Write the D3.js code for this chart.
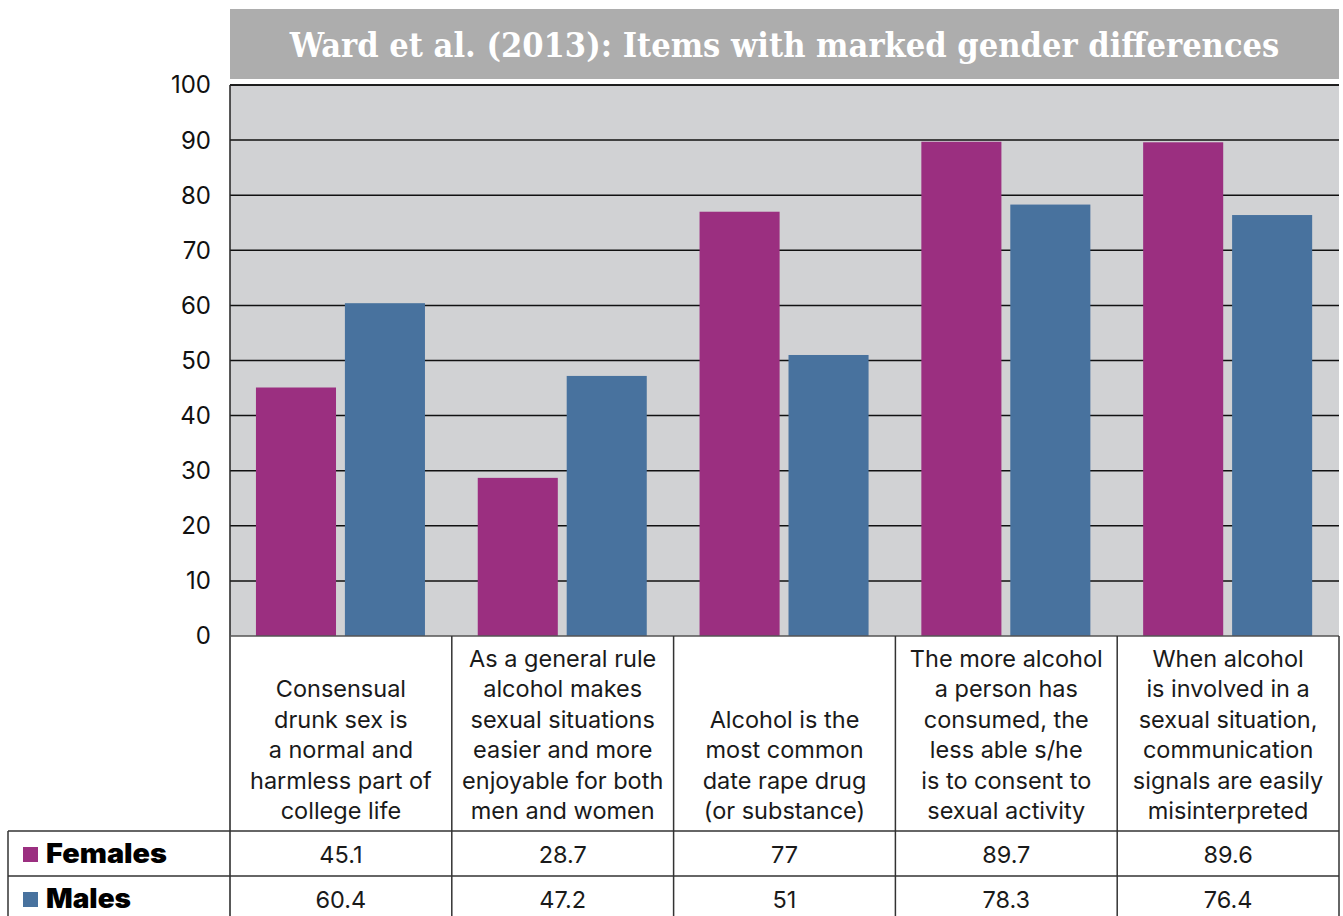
<!DOCTYPE html>
<html>
<head>
<meta charset="utf-8">
<script src="https://cdn.jsdelivr.net/npm/d3@7/dist/d3.min.js"></script>
<style>
  html, body { margin: 0; padding: 0; background: #fff; }
  svg { display: block; }
</style>
</head>
<body>
<svg id="chart" width="1343" height="916"></svg>
<script>
// Survey items (one per column), wrapped the way they appear in the table
const categories = [
  ["Consensual", "drunk sex is", "a normal and", "harmless part of", "college life"],
  ["As a general rule", "alcohol makes", "sexual situations", "easier and more", "enjoyable for both", "men and women"],
  ["Alcohol is the", "most common", "date rape drug", "(or substance)"],
  ["The more alcohol", "a person has", "consumed, the", "less able s/he", "is to consent to", "sexual activity"],
  ["When alcohol", "is involved in a", "sexual situation,", "communication", "signals are easily", "misinterpreted"]
];
const seriesNames = ["Females", "Males"];
const females = [45.1, 28.7, 77, 89.7, 89.6];
const males = [60.4, 47.2, 51, 78.3, 76.4];
const yTicks = [0, 10, 20, 30, 40, 50, 60, 70, 80, 90, 100];
const title = "Ward et al. (2013): Items with marked gender differences";

const colors = { Females: "#9b2f80", Males: "#48729e" };
const seriesValues = { Females: females, Males: males };
const legendWidths = { Females: 121, Males: 85 };

const svg = d3.select("#chart");

// Layout
const plotLeft = 230, plotRight = 1339, plotTop = 85, plotBottom = 636;
const tableLeft = 8, rowFem = 831, rowMale = 876, tableBottom = 916;

const y = d3.scaleLinear().domain([0, 100]).range([plotBottom, plotTop]);
const x0 = d3.scaleBand().domain(d3.range(categories.length)).range([plotLeft, plotRight]).padding(0);
const bw = x0.bandwidth();
const x1 = d3.scaleBand().domain(seriesNames)
  .range([bw * 0.117, bw * 0.879]).paddingInner(0.1).paddingOuter(0);

// Title banner
svg.append("rect")
  .attr("x", plotLeft).attr("y", 9)
  .attr("width", plotRight - plotLeft).attr("height", 70)
  .attr("fill", "#adadad");
const titleText = svg.append("text")
  .attr("x", (plotLeft + plotRight) / 2).attr("y", 57)
  .attr("text-anchor", "middle")
  .attr("font-family", "'DejaVu Serif Condensed', 'DejaVu Serif', serif")
  .attr("font-weight", "bold")
  .attr("font-size", 40)
  .attr("fill", "#fff")
  .text(title);
// shrink the title if it runs wider than the banner text area
const titleMax = 990;
const titleW = titleText.node().getComputedTextLength();
if (titleW > titleMax) titleText.attr("font-size", 40 * titleMax / titleW);

// Plot background
svg.append("rect")
  .attr("x", plotLeft).attr("y", plotTop)
  .attr("width", plotRight - plotLeft).attr("height", plotBottom - plotTop)
  .attr("fill", "#d1d2d4");

// Gridlines
svg.append("g")
  .selectAll("line")
  .data(yTicks.filter(d => d > 0))
  .join("line")
  .attr("x1", plotLeft).attr("x2", plotRight)
  .attr("y1", d => y(d)).attr("y2", d => y(d))
  .attr("stroke", "#111").attr("stroke-width", 1.5);

// Bars
const groups = svg.append("g")
  .selectAll("g")
  .data(categories.map((c, i) => i))
  .join("g")
  .attr("transform", i => `translate(${x0(i)},0)`);

groups.selectAll("rect")
  .data(i => seriesNames.map(s => ({ s, v: seriesValues[s][i] })))
  .join("rect")
  .attr("x", d => x1(d.s))
  .attr("width", x1.bandwidth())
  .attr("y", d => y(d.v))
  .attr("height", d => y(0) - y(d.v))
  .attr("fill", d => colors[d.s]);

// Y axis labels
const yAxis = d3.axisLeft(y).tickValues(yTicks).tickSize(0).tickPadding(19);
const yg = svg.append("g").attr("transform", `translate(${plotLeft},0)`).call(yAxis);
yg.select(".domain").remove();
yg.selectAll("text")
  .attr("font-family", "Inter, 'Noto Sans', sans-serif")
  .attr("font-size", 24)
  .attr("fill", "#111")
  .attr("dy", "0.33em");

// Plot frame: left edge and top
svg.append("line")
  .attr("x1", plotLeft).attr("x2", plotRight).attr("y1", plotTop).attr("y2", plotTop)
  .attr("stroke", "#111").attr("stroke-width", 1.5);
svg.append("line")
  .attr("x1", plotLeft).attr("x2", plotLeft).attr("y1", plotTop).attr("y2", tableBottom)
  .attr("stroke", "#222").attr("stroke-width", 1.5);
svg.append("line")
  .attr("x1", plotLeft).attr("x2", plotRight).attr("y1", plotBottom).attr("y2", plotBottom)
  .attr("stroke", "#555").attr("stroke-width", 1.5);

// Data table grid
const tbl = svg.append("g").attr("stroke", "#333").attr("stroke-width", 1.5);
x0.domain().forEach(i => {
  tbl.append("line")
    .attr("x1", x0(i) + bw).attr("x2", x0(i) + bw)
    .attr("y1", plotBottom).attr("y2", tableBottom);
});
[rowFem, rowMale].forEach(r => {
  tbl.append("line").attr("x1", tableLeft).attr("x2", plotRight).attr("y1", r).attr("y2", r);
});
tbl.append("line").attr("x1", tableLeft).attr("x2", tableLeft).attr("y1", rowFem).attr("y2", tableBottom);

// Category labels, bottom-aligned in their cells
const lineH = 30.5, lastBaseline = 819;
groups.each(function (i) {
  const lines = categories[i];
  const t = d3.select(this).append("text")
    .attr("text-anchor", "middle")
    .attr("font-family", "Inter, 'Noto Sans', sans-serif")
    .attr("font-size", 23.5)
    .attr("fill", "#1a1a1a");
  lines.forEach((ln, k) => {
    t.append("tspan")
      .attr("x", bw / 2)
      .attr("y", lastBaseline - (lines.length - 1 - k) * lineH)
      .text(ln);
  });
});

// Value rows
const rows = [
  { s: "Females", base: rowFem },
  { s: "Males", base: rowMale }
];
rows.forEach(r => {
  svg.append("g")
    .selectAll("text")
    .data(seriesValues[r.s])
    .join("text")
    .attr("x", (d, i) => x0(i) + bw / 2)
    .attr("y", r.base + 32)
    .attr("text-anchor", "middle")
    .attr("font-family", "Inter, 'Noto Sans', sans-serif")
    .attr("font-size", 23.5)
    .attr("fill", "#1a1a1a")
    .text(d => d);

  // Legend cell
  svg.append("rect")
    .attr("x", 23).attr("y", r.base + 16)
    .attr("width", 15).attr("height", 15)
    .attr("fill", colors[r.s]);
  svg.append("text")
    .attr("x", 46).attr("y", r.base + 32)
    .attr("font-family", "Inter, 'Liberation Sans', sans-serif")
    .attr("font-weight", 900)
    .attr("font-size", 26.5)
    .attr("textLength", legendWidths[r.s])
    .attr("lengthAdjust", "spacingAndGlyphs")
    .attr("fill", "#000")
    .text(r.s);
});
</script>
</body>
</html>
